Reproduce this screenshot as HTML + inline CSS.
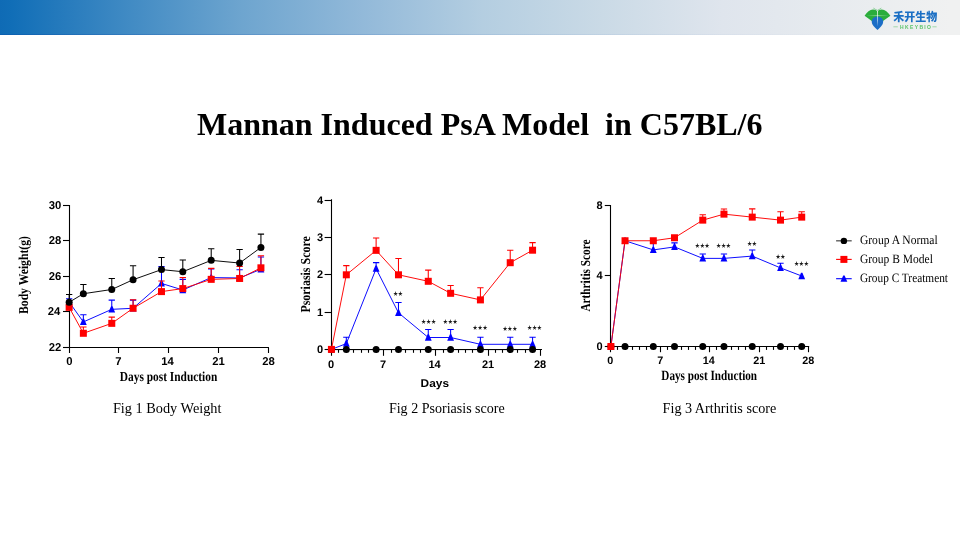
<!DOCTYPE html>
<html><head><meta charset="utf-8"><title>Mannan Induced PsA Model in C57BL/6</title>
<style>
html,body{margin:0;padding:0;background:#fff;}
body{width:960px;height:540px;overflow:hidden;position:relative;}
.hdr{position:absolute;left:0;top:0;width:960px;height:35px;
background:linear-gradient(90deg,#0f6bb5 0px,#116eb7 12px,#3e89c3 122px,#6ea5cf 242px,#92b9d9 362px,#b4cee1 482px,#cadae6 602px,#dfe5ed 722px,#e7ebef 832px,#f0f1f1 950px,#f0f1f1 960px);}
.hdr:after{content:"";position:absolute;left:0;width:960px;bottom:0;height:1px;background:linear-gradient(90deg,rgba(0,60,160,0.25),rgba(0,60,160,0.08) 50%,rgba(0,60,160,0) 90%);}
svg{position:absolute;left:0;top:0;}
</style></head><body>
<div class="hdr"></div>
<svg width="960" height="540" viewBox="0 0 960 540">
<defs>
  <linearGradient id="vl" x1="0" y1="0" x2="0" y2="1"><stop offset="0" stop-color="#ffffff" stop-opacity="0.95"/><stop offset="0.6" stop-color="#ffffff" stop-opacity="0.7"/><stop offset="1" stop-color="#ffffff" stop-opacity="0"/></linearGradient>
  <linearGradient id="hl" x1="0" y1="0" x2="1" y2="0"><stop offset="0" stop-color="#ffffff" stop-opacity="0"/><stop offset="0.5" stop-color="#ffffff" stop-opacity="0.6"/><stop offset="1" stop-color="#ffffff" stop-opacity="0"/></linearGradient>
</defs>
<g>
  <path d="M864.6 15.7 C867 12 869.8 9.6 873 9.5 C875 9.5 876.5 10.3 877.4 11.4 C878.3 10.3 879.8 9.5 881.8 9.5 C885 9.6 887.8 12 890.4 15.7 L883 21 L877.4 22 L871.8 21 Z" fill="#2aad3b"/>
  <path d="M877.4 16.4 C880.9 16.4 883.2 18.8 883.2 21.7 C883.2 24.6 880.3 27.3 877.5 29.9 C874.6 27.3 871.7 24.6 871.7 21.7 C871.7 18.8 874 16.4 877.4 16.4Z" fill="#1c6ec6"/>
  <rect x="866" y="15.35" width="23" height="0.7" fill="url(#hl)"/>
  <rect x="877.05" y="11" width="0.8" height="15.5" fill="url(#vl)"/>
  <path d="M873.4 8.1 Q875.6 9.6 877.4 10.4 Q879.2 9.6 881.3 8.1" stroke="#4cbb5c" stroke-width="0.6" fill="none"/>
</g>
<text x="893.2" y="20.6" font-family="'Liberation Sans','Noto Sans CJK SC',sans-serif" font-weight="900" font-size="11.2" fill="#1b6fc4" textLength="44" lengthAdjust="spacingAndGlyphs">禾开生物</text>
<path d="M893.4 26.8H897.8M932.4 26.8H936.6" stroke="#9ad6a2" stroke-width="0.9"/>
<text x="900" y="29" font-family="'Liberation Sans',sans-serif" font-weight="bold" font-size="5" fill="#5cc46a" textLength="31" lengthAdjust="spacing">HKEYBIO</text>

<path d="M69.5 205V347.5M268.9 347.5H69.5" stroke="#000" stroke-width="1.1" fill="none"/>
<path d="M63 347.5H69.5" stroke="#000" stroke-width="1.1"/>
<path d="M63 311.5H69.5" stroke="#000" stroke-width="1.1"/>
<path d="M63 276.5H69.5" stroke="#000" stroke-width="1.1"/>
<path d="M63 240.5H69.5" stroke="#000" stroke-width="1.1"/>
<path d="M63 205.5H69.5" stroke="#000" stroke-width="1.1"/>
<path d="M69.5 347.5V353" stroke="#000" stroke-width="1.1"/>
<path d="M118.5 347.5V353" stroke="#000" stroke-width="1.1"/>
<path d="M168.5 347.5V353" stroke="#000" stroke-width="1.1"/>
<path d="M218.5 347.5V353" stroke="#000" stroke-width="1.1"/>
<path d="M268.5 347.5V353" stroke="#000" stroke-width="1.1"/>
<polyline points="69.15,302.06 83.36,321.93 111.77,309.34 133.08,308.27 161.49,283.44 182.8,290 211.21,277.58 239.62,277.94 260.93,269.24" fill="none" stroke="#0000ff" stroke-width="0.95" stroke-linejoin="round"/>
<path d="M69.15 302.06V298.69M66 298.69H72.3" stroke="#0000ff" stroke-width="1.05" fill="none"/>
<path d="M83.36 321.93V314.84M80.21 314.84H86.51" stroke="#0000ff" stroke-width="1.05" fill="none"/>
<path d="M111.77 309.34V300.11M108.62 300.11H114.92" stroke="#0000ff" stroke-width="1.05" fill="none"/>
<path d="M133.08 308.27V300.11M129.93 300.11H136.23" stroke="#0000ff" stroke-width="1.05" fill="none"/>
<path d="M161.49 283.44V266.58M158.34 266.58H164.64" stroke="#0000ff" stroke-width="1.05" fill="none"/>
<path d="M182.8 290V279.36M179.65 279.36H185.95" stroke="#0000ff" stroke-width="1.05" fill="none"/>
<path d="M211.21 277.58V269.07M208.06 269.07H214.36" stroke="#0000ff" stroke-width="1.05" fill="none"/>
<path d="M239.62 277.94V269.78M236.47 269.78H242.77" stroke="#0000ff" stroke-width="1.05" fill="none"/>
<path d="M260.93 269.24V257M257.78 257H264.08" stroke="#0000ff" stroke-width="1.05" fill="none"/>
<path d="M68.45 298.91H69.85L72.55 305.21H65.75Z" fill="#0000ff"/>
<path d="M82.66 318.78H84.06L86.76 325.08H79.96Z" fill="#0000ff"/>
<path d="M111.07 306.19H112.47L115.17 312.49H108.37Z" fill="#0000ff"/>
<path d="M132.38 305.12H133.78L136.48 311.42H129.68Z" fill="#0000ff"/>
<path d="M160.79 280.29H162.19L164.89 286.59H158.09Z" fill="#0000ff"/>
<path d="M182.1 286.85H183.5L186.2 293.15H179.4Z" fill="#0000ff"/>
<path d="M210.51 274.43H211.91L214.61 280.73H207.81Z" fill="#0000ff"/>
<path d="M238.92 274.79H240.32L243.02 281.09H236.22Z" fill="#0000ff"/>
<path d="M260.23 266.09H261.63L264.33 272.39H257.53Z" fill="#0000ff"/>
<polyline points="69.15,307.38 83.36,333.29 111.77,323.35 133.08,308.27 161.49,291.6 182.8,288.58 211.21,279.36 239.62,278.47 260.93,267.82" fill="none" stroke="#ff0000" stroke-width="0.95" stroke-linejoin="round"/>
<path d="M83.36 333.29V327.08M80.21 327.08H86.51" stroke="#ff0000" stroke-width="1.05" fill="none"/>
<path d="M111.77 323.35V317.14M108.62 317.14H114.92" stroke="#ff0000" stroke-width="1.05" fill="none"/>
<path d="M133.08 308.27V299.76M129.93 299.76H136.23" stroke="#ff0000" stroke-width="1.05" fill="none"/>
<path d="M161.49 291.6V280.95M158.34 280.95H164.64" stroke="#ff0000" stroke-width="1.05" fill="none"/>
<path d="M182.8 288.58V277.58M179.65 277.58H185.95" stroke="#ff0000" stroke-width="1.05" fill="none"/>
<path d="M211.21 279.36V268.36M208.06 268.36H214.36" stroke="#ff0000" stroke-width="1.05" fill="none"/>
<path d="M239.62 278.47V266.58M236.47 266.58H242.77" stroke="#ff0000" stroke-width="1.05" fill="none"/>
<path d="M260.93 267.82V255.76M257.78 255.76H264.08" stroke="#ff0000" stroke-width="1.05" fill="none"/>
<rect x="65.65" y="303.88" width="7" height="7" fill="#ff0000"/>
<rect x="79.86" y="329.79" width="7" height="7" fill="#ff0000"/>
<rect x="108.27" y="319.85" width="7" height="7" fill="#ff0000"/>
<rect x="129.58" y="304.77" width="7" height="7" fill="#ff0000"/>
<rect x="157.99" y="288.1" width="7" height="7" fill="#ff0000"/>
<rect x="179.3" y="285.08" width="7" height="7" fill="#ff0000"/>
<rect x="207.71" y="275.86" width="7" height="7" fill="#ff0000"/>
<rect x="236.12" y="274.97" width="7" height="7" fill="#ff0000"/>
<rect x="257.43" y="264.32" width="7" height="7" fill="#ff0000"/>
<polyline points="69.15,302.24 83.36,293.73 111.77,289.47 133.08,279.71 161.49,269.6 182.8,271.73 211.21,260.37 239.62,263.04 260.93,247.42" fill="none" stroke="#000000" stroke-width="0.95" stroke-linejoin="round"/>
<path d="M69.15 302.24V294.43M66 294.43H72.3" stroke="#000000" stroke-width="1.05" fill="none"/>
<path d="M83.36 293.73V284.5M80.21 284.5H86.51" stroke="#000000" stroke-width="1.05" fill="none"/>
<path d="M111.77 289.47V278.47M108.62 278.47H114.92" stroke="#000000" stroke-width="1.05" fill="none"/>
<path d="M133.08 279.71V265.7M129.93 265.7H136.23" stroke="#000000" stroke-width="1.05" fill="none"/>
<path d="M161.49 269.6V257.54M158.34 257.54H164.64" stroke="#000000" stroke-width="1.05" fill="none"/>
<path d="M182.8 271.73V260.02M179.65 260.02H185.95" stroke="#000000" stroke-width="1.05" fill="none"/>
<path d="M211.21 260.37V248.67M208.06 248.67H214.36" stroke="#000000" stroke-width="1.05" fill="none"/>
<path d="M239.62 263.04V249.55M236.47 249.55H242.77" stroke="#000000" stroke-width="1.05" fill="none"/>
<path d="M260.93 247.42V234.12M257.78 234.12H264.08" stroke="#000000" stroke-width="1.05" fill="none"/>
<circle cx="69.15" cy="302.24" r="3.5" fill="#000000"/>
<circle cx="83.36" cy="293.73" r="3.5" fill="#000000"/>
<circle cx="111.77" cy="289.47" r="3.5" fill="#000000"/>
<circle cx="133.08" cy="279.71" r="3.5" fill="#000000"/>
<circle cx="161.49" cy="269.6" r="3.5" fill="#000000"/>
<circle cx="182.8" cy="271.73" r="3.5" fill="#000000"/>
<circle cx="211.21" cy="260.37" r="3.5" fill="#000000"/>
<circle cx="239.62" cy="263.04" r="3.5" fill="#000000"/>
<circle cx="260.93" cy="247.42" r="3.5" fill="#000000"/>
<path d="M331.5 199.2V349.5M542 349.5H331.5" stroke="#000" stroke-width="1.1" fill="none"/>
<path d="M324.6 349.5H331.5" stroke="#000" stroke-width="1.1"/>
<path d="M324.6 312.5H331.5" stroke="#000" stroke-width="1.1"/>
<path d="M324.6 274.5H331.5" stroke="#000" stroke-width="1.1"/>
<path d="M324.6 237.5H331.5" stroke="#000" stroke-width="1.1"/>
<path d="M324.6 200.5H331.5" stroke="#000" stroke-width="1.1"/>
<path d="M331.5 349.5V355.8" stroke="#000" stroke-width="1.1"/>
<path d="M338.5 349.5V352.8" stroke="#000" stroke-width="1.1"/>
<path d="M346.5 349.5V352.8" stroke="#000" stroke-width="1.1"/>
<path d="M353.5 349.5V352.8" stroke="#000" stroke-width="1.1"/>
<path d="M361.5 349.5V352.8" stroke="#000" stroke-width="1.1"/>
<path d="M368.5 349.5V352.8" stroke="#000" stroke-width="1.1"/>
<path d="M376.5 349.5V352.8" stroke="#000" stroke-width="1.1"/>
<path d="M383.5 349.5V355.8" stroke="#000" stroke-width="1.1"/>
<path d="M391.5 349.5V352.8" stroke="#000" stroke-width="1.1"/>
<path d="M398.5 349.5V352.8" stroke="#000" stroke-width="1.1"/>
<path d="M405.5 349.5V352.8" stroke="#000" stroke-width="1.1"/>
<path d="M413.5 349.5V352.8" stroke="#000" stroke-width="1.1"/>
<path d="M420.5 349.5V352.8" stroke="#000" stroke-width="1.1"/>
<path d="M428.5 349.5V352.8" stroke="#000" stroke-width="1.1"/>
<path d="M435.5 349.5V355.8" stroke="#000" stroke-width="1.1"/>
<path d="M443.5 349.5V352.8" stroke="#000" stroke-width="1.1"/>
<path d="M450.5 349.5V352.8" stroke="#000" stroke-width="1.1"/>
<path d="M458.5 349.5V352.8" stroke="#000" stroke-width="1.1"/>
<path d="M465.5 349.5V352.8" stroke="#000" stroke-width="1.1"/>
<path d="M472.5 349.5V352.8" stroke="#000" stroke-width="1.1"/>
<path d="M480.5 349.5V352.8" stroke="#000" stroke-width="1.1"/>
<path d="M488.5 349.5V355.8" stroke="#000" stroke-width="1.1"/>
<path d="M495.5 349.5V352.8" stroke="#000" stroke-width="1.1"/>
<path d="M502.5 349.5V352.8" stroke="#000" stroke-width="1.1"/>
<path d="M510.5 349.5V352.8" stroke="#000" stroke-width="1.1"/>
<path d="M517.5 349.5V352.8" stroke="#000" stroke-width="1.1"/>
<path d="M525.5 349.5V352.8" stroke="#000" stroke-width="1.1"/>
<path d="M532.5 349.5V352.8" stroke="#000" stroke-width="1.1"/>
<path d="M540.5 349.5V355.8" stroke="#000" stroke-width="1.1"/>
<polyline points="331.42,349.4 346.32,343.6 376.12,268.65 398.47,312.8 428.27,337.5 450.62,337.5 480.42,344.3 510.22,344.3 532.57,344.3" fill="none" stroke="#0000ff" stroke-width="0.95" stroke-linejoin="round"/>
<path d="M346.32 343.6V337.3M343.17 337.3H349.47" stroke="#0000ff" stroke-width="1.05" fill="none"/>
<path d="M376.12 268.65V262.6M372.97 262.6H379.27" stroke="#0000ff" stroke-width="1.05" fill="none"/>
<path d="M398.47 312.8V302.5M395.32 302.5H401.62" stroke="#0000ff" stroke-width="1.05" fill="none"/>
<path d="M428.27 337.5V329.4M425.12 329.4H431.42" stroke="#0000ff" stroke-width="1.05" fill="none"/>
<path d="M450.62 337.5V329.4M447.47 329.4H453.77" stroke="#0000ff" stroke-width="1.05" fill="none"/>
<path d="M480.42 344.3V337.3M477.27 337.3H483.57" stroke="#0000ff" stroke-width="1.05" fill="none"/>
<path d="M510.22 344.3V337.3M507.07 337.3H513.37" stroke="#0000ff" stroke-width="1.05" fill="none"/>
<path d="M532.57 344.3V337.3M529.42 337.3H535.72" stroke="#0000ff" stroke-width="1.05" fill="none"/>
<path d="M330.72 346.25H332.12L334.82 352.55H328.02Z" fill="#0000ff"/>
<path d="M345.62 340.45H347.02L349.72 346.75H342.92Z" fill="#0000ff"/>
<path d="M375.42 265.5H376.82L379.52 271.8H372.72Z" fill="#0000ff"/>
<path d="M397.77 309.65H399.17L401.87 315.95H395.07Z" fill="#0000ff"/>
<path d="M427.57 334.35H428.97L431.67 340.65H424.87Z" fill="#0000ff"/>
<path d="M449.92 334.35H451.32L454.02 340.65H447.22Z" fill="#0000ff"/>
<path d="M479.72 341.15H481.12L483.82 347.45H477.02Z" fill="#0000ff"/>
<path d="M509.52 341.15H510.92L513.62 347.45H506.82Z" fill="#0000ff"/>
<path d="M531.87 341.15H533.27L535.97 347.45H529.17Z" fill="#0000ff"/>
<polyline points="331.42,349.6 346.32,349.6 376.12,349.6 398.47,349.6 428.27,349.6 450.62,349.6 480.42,349.6 510.22,349.6 532.57,349.6" fill="none" stroke="#000000" stroke-width="0.95" stroke-linejoin="round"/>
<circle cx="331.42" cy="349.6" r="3.5" fill="#000000"/>
<circle cx="346.32" cy="349.6" r="3.5" fill="#000000"/>
<circle cx="376.12" cy="349.6" r="3.5" fill="#000000"/>
<circle cx="398.47" cy="349.6" r="3.5" fill="#000000"/>
<circle cx="428.27" cy="349.6" r="3.5" fill="#000000"/>
<circle cx="450.62" cy="349.6" r="3.5" fill="#000000"/>
<circle cx="480.42" cy="349.6" r="3.5" fill="#000000"/>
<circle cx="510.22" cy="349.6" r="3.5" fill="#000000"/>
<circle cx="532.57" cy="349.6" r="3.5" fill="#000000"/>
<polyline points="331.42,349.4 346.32,274.8 376.12,250.35 398.47,274.8 428.27,281.3 450.62,293.3 480.42,299.9 510.22,262.7 532.57,250.2" fill="none" stroke="#ff0000" stroke-width="0.95" stroke-linejoin="round"/>
<path d="M346.32 274.8V265.6M343.17 265.6H349.47" stroke="#ff0000" stroke-width="1.05" fill="none"/>
<path d="M376.12 250.35V238M372.97 238H379.27" stroke="#ff0000" stroke-width="1.05" fill="none"/>
<path d="M398.47 274.8V258.5M395.32 258.5H401.62" stroke="#ff0000" stroke-width="1.05" fill="none"/>
<path d="M428.27 281.3V270.1M425.12 270.1H431.42" stroke="#ff0000" stroke-width="1.05" fill="none"/>
<path d="M450.62 293.3V285.5M447.47 285.5H453.77" stroke="#ff0000" stroke-width="1.05" fill="none"/>
<path d="M480.42 299.9V287.7M477.27 287.7H483.57" stroke="#ff0000" stroke-width="1.05" fill="none"/>
<path d="M510.22 262.7V250.2M507.07 250.2H513.37" stroke="#ff0000" stroke-width="1.05" fill="none"/>
<path d="M532.57 250.2V242.6M529.42 242.6H535.72" stroke="#ff0000" stroke-width="1.05" fill="none"/>
<rect x="327.92" y="345.9" width="7" height="7" fill="#ff0000"/>
<rect x="342.82" y="271.3" width="7" height="7" fill="#ff0000"/>
<rect x="372.62" y="246.85" width="7" height="7" fill="#ff0000"/>
<rect x="394.97" y="271.3" width="7" height="7" fill="#ff0000"/>
<rect x="424.77" y="277.8" width="7" height="7" fill="#ff0000"/>
<rect x="447.12" y="289.8" width="7" height="7" fill="#ff0000"/>
<rect x="476.92" y="296.4" width="7" height="7" fill="#ff0000"/>
<rect x="506.72" y="259.2" width="7" height="7" fill="#ff0000"/>
<rect x="529.07" y="246.7" width="7" height="7" fill="#ff0000"/>
<path d="M610.5 205V346.5M809.2 346.5H610.5" stroke="#000" stroke-width="1.1" fill="none"/>
<path d="M604.8 346.5H610.5" stroke="#000" stroke-width="1.1"/>
<path d="M604.8 275.5H610.5" stroke="#000" stroke-width="1.1"/>
<path d="M604.8 205.5H610.5" stroke="#000" stroke-width="1.1"/>
<path d="M610.5 346.5V352.2" stroke="#000" stroke-width="1.1"/>
<path d="M617.5 346.5V349.9" stroke="#000" stroke-width="1.1"/>
<path d="M625.5 346.5V349.9" stroke="#000" stroke-width="1.1"/>
<path d="M632.5 346.5V349.9" stroke="#000" stroke-width="1.1"/>
<path d="M639.5 346.5V349.9" stroke="#000" stroke-width="1.1"/>
<path d="M646.5 346.5V349.9" stroke="#000" stroke-width="1.1"/>
<path d="M653.5 346.5V349.9" stroke="#000" stroke-width="1.1"/>
<path d="M660.5 346.5V352.2" stroke="#000" stroke-width="1.1"/>
<path d="M667.5 346.5V349.9" stroke="#000" stroke-width="1.1"/>
<path d="M674.5 346.5V349.9" stroke="#000" stroke-width="1.1"/>
<path d="M681.5 346.5V349.9" stroke="#000" stroke-width="1.1"/>
<path d="M688.5 346.5V349.9" stroke="#000" stroke-width="1.1"/>
<path d="M695.5 346.5V349.9" stroke="#000" stroke-width="1.1"/>
<path d="M702.5 346.5V349.9" stroke="#000" stroke-width="1.1"/>
<path d="M709.5 346.5V352.2" stroke="#000" stroke-width="1.1"/>
<path d="M716.5 346.5V349.9" stroke="#000" stroke-width="1.1"/>
<path d="M723.5 346.5V349.9" stroke="#000" stroke-width="1.1"/>
<path d="M731.5 346.5V349.9" stroke="#000" stroke-width="1.1"/>
<path d="M738.5 346.5V349.9" stroke="#000" stroke-width="1.1"/>
<path d="M745.5 346.5V349.9" stroke="#000" stroke-width="1.1"/>
<path d="M752.5 346.5V349.9" stroke="#000" stroke-width="1.1"/>
<path d="M759.5 346.5V352.2" stroke="#000" stroke-width="1.1"/>
<path d="M766.5 346.5V349.9" stroke="#000" stroke-width="1.1"/>
<path d="M773.5 346.5V349.9" stroke="#000" stroke-width="1.1"/>
<path d="M780.5 346.5V349.9" stroke="#000" stroke-width="1.1"/>
<path d="M787.5 346.5V349.9" stroke="#000" stroke-width="1.1"/>
<path d="M794.5 346.5V349.9" stroke="#000" stroke-width="1.1"/>
<path d="M801.5 346.5V349.9" stroke="#000" stroke-width="1.1"/>
<path d="M808.5 346.5V352.2" stroke="#000" stroke-width="1.1"/>
<polyline points="610.9,346.5 625.03,240.75 653.3,249.91 674.5,246.92 702.77,258.38 723.97,258.38 752.24,256.08 780.51,267.89 801.71,276" fill="none" stroke="#0000ff" stroke-width="0.95" stroke-linejoin="round"/>
<path d="M653.3 249.91V240.75M650.15 240.75H656.45" stroke="#0000ff" stroke-width="1.05" fill="none"/>
<path d="M674.5 246.92V242.87M671.35 242.87H677.65" stroke="#0000ff" stroke-width="1.05" fill="none"/>
<path d="M702.77 258.38V253.97M699.62 253.97H705.92" stroke="#0000ff" stroke-width="1.05" fill="none"/>
<path d="M723.97 258.38V253.97M720.82 253.97H727.12" stroke="#0000ff" stroke-width="1.05" fill="none"/>
<path d="M752.24 256.08V250.09M749.09 250.09H755.39" stroke="#0000ff" stroke-width="1.05" fill="none"/>
<path d="M780.51 267.89V263.31M777.36 263.31H783.66" stroke="#0000ff" stroke-width="1.05" fill="none"/>
<path d="M610.2 343.35H611.6L614.3 349.65H607.5Z" fill="#0000ff"/>
<path d="M624.33 237.6H625.73L628.43 243.9H621.63Z" fill="#0000ff"/>
<path d="M652.6 246.76H654L656.7 253.06H649.9Z" fill="#0000ff"/>
<path d="M673.8 243.77H675.2L677.9 250.07H671.1Z" fill="#0000ff"/>
<path d="M702.07 255.22H703.47L706.17 261.52H699.37Z" fill="#0000ff"/>
<path d="M723.27 255.22H724.67L727.37 261.52H720.57Z" fill="#0000ff"/>
<path d="M751.54 252.93H752.94L755.64 259.23H748.84Z" fill="#0000ff"/>
<path d="M779.81 264.74H781.21L783.91 271.04H777.11Z" fill="#0000ff"/>
<path d="M801.01 272.85H802.41L805.11 279.15H798.31Z" fill="#0000ff"/>
<polyline points="610.9,346.5 625.03,346.5 653.3,346.5 674.5,346.5 702.77,346.5 723.97,346.5 752.24,346.5 780.51,346.5 801.71,346.5" fill="none" stroke="#000000" stroke-width="0.95" stroke-linejoin="round"/>
<circle cx="610.9" cy="346.5" r="3.5" fill="#000000"/>
<circle cx="625.03" cy="346.5" r="3.5" fill="#000000"/>
<circle cx="653.3" cy="346.5" r="3.5" fill="#000000"/>
<circle cx="674.5" cy="346.5" r="3.5" fill="#000000"/>
<circle cx="702.77" cy="346.5" r="3.5" fill="#000000"/>
<circle cx="723.97" cy="346.5" r="3.5" fill="#000000"/>
<circle cx="752.24" cy="346.5" r="3.5" fill="#000000"/>
<circle cx="780.51" cy="346.5" r="3.5" fill="#000000"/>
<circle cx="801.71" cy="346.5" r="3.5" fill="#000000"/>
<polyline points="610.9,346.5 625.03,240.75 653.3,240.75 674.5,237.75 702.77,220.13 723.97,214.14 752.24,217.13 780.51,220.13 801.71,217.13" fill="none" stroke="#ff0000" stroke-width="0.95" stroke-linejoin="round"/>
<path d="M702.77 220.13V214.66M699.62 214.66H705.92" stroke="#ff0000" stroke-width="1.05" fill="none"/>
<path d="M723.97 214.14V209.03M720.82 209.03H727.12" stroke="#ff0000" stroke-width="1.05" fill="none"/>
<path d="M752.24 217.13V208.85M749.09 208.85H755.39" stroke="#ff0000" stroke-width="1.05" fill="none"/>
<path d="M780.51 220.13V211.84M777.36 211.84H783.66" stroke="#ff0000" stroke-width="1.05" fill="none"/>
<path d="M801.71 217.13V211.84M798.56 211.84H804.86" stroke="#ff0000" stroke-width="1.05" fill="none"/>
<rect x="607.4" y="343" width="7" height="7" fill="#ff0000"/>
<rect x="621.53" y="237.25" width="7" height="7" fill="#ff0000"/>
<rect x="649.8" y="237.25" width="7" height="7" fill="#ff0000"/>
<rect x="671" y="234.25" width="7" height="7" fill="#ff0000"/>
<rect x="699.27" y="216.63" width="7" height="7" fill="#ff0000"/>
<rect x="720.47" y="210.64" width="7" height="7" fill="#ff0000"/>
<rect x="748.74" y="213.63" width="7" height="7" fill="#ff0000"/>
<rect x="777.01" y="216.63" width="7" height="7" fill="#ff0000"/>
<rect x="798.21" y="213.63" width="7" height="7" fill="#ff0000"/>
<path d="M836.1 240.8H851.7" stroke="#5a5a5a" stroke-width="1.35"/>
<circle cx="843.9" cy="240.9" r="3.2" fill="#000000"/>
<path d="M836.1 259.4H851.7" stroke="#ff0000" stroke-width="1.1"/>
<rect x="840.4" y="255.9" width="7" height="7" fill="#ff0000"/>
<path d="M836.1 278.7H851.7" stroke="#0000ff" stroke-width="1.1"/>
<path d="M843.2 275.55H844.6L847.3 281.85H840.5Z" fill="#0000ff"/>
<text transform="translate(48.80,350.80) scale(1.0000,1)" font-family="'Liberation Sans', Arial, sans-serif" font-weight="bold" font-size="11.3" fill="#000" text-rendering="geometricPrecision">22</text>
<text transform="translate(47.80,314.80) scale(1.0000,1)" font-family="'Liberation Sans', Arial, sans-serif" font-weight="bold" font-size="11.3" fill="#000" text-rendering="geometricPrecision">24</text>
<text transform="translate(48.80,279.80) scale(1.0000,1)" font-family="'Liberation Sans', Arial, sans-serif" font-weight="bold" font-size="11.3" fill="#000" text-rendering="geometricPrecision">26</text>
<text transform="translate(48.80,243.80) scale(1.0000,1)" font-family="'Liberation Sans', Arial, sans-serif" font-weight="bold" font-size="11.3" fill="#000" text-rendering="geometricPrecision">28</text>
<text transform="translate(48.80,208.80) scale(1.0000,1)" font-family="'Liberation Sans', Arial, sans-serif" font-weight="bold" font-size="11.3" fill="#000" text-rendering="geometricPrecision">30</text>
<text transform="translate(66.30,364.80) scale(1.0000,1)" font-family="'Liberation Sans', Arial, sans-serif" font-weight="bold" font-size="11.3" fill="#000" text-rendering="geometricPrecision">0</text>
<text transform="translate(115.30,364.80) scale(1.0000,1)" font-family="'Liberation Sans', Arial, sans-serif" font-weight="bold" font-size="11.3" fill="#000" text-rendering="geometricPrecision">7</text>
<text transform="translate(161.30,364.80) scale(1.0000,1)" font-family="'Liberation Sans', Arial, sans-serif" font-weight="bold" font-size="11.3" fill="#000" text-rendering="geometricPrecision">14</text>
<text transform="translate(212.30,364.80) scale(1.0000,1)" font-family="'Liberation Sans', Arial, sans-serif" font-weight="bold" font-size="11.3" fill="#000" text-rendering="geometricPrecision">21</text>
<text transform="translate(262.30,364.80) scale(1.0000,1)" font-family="'Liberation Sans', Arial, sans-serif" font-weight="bold" font-size="11.3" fill="#000" text-rendering="geometricPrecision">28</text>
<text transform="translate(119.75,381.20) scale(0.8329,1)" font-family="'Liberation Serif', 'Times New Roman', serif" font-weight="bold" font-size="13.7" fill="#000" text-rendering="geometricPrecision">Days post Induction</text>
<text transform="translate(28.10,314.00) rotate(-90) scale(0.8589,1)" font-family="'Liberation Serif', 'Times New Roman', serif" font-weight="bold" font-size="13.6" fill="#000" text-rendering="geometricPrecision">Body Weight(g)</text>
<text transform="translate(316.90,353.20) scale(1.0000,1)" font-family="'Liberation Sans', Arial, sans-serif" font-weight="bold" font-size="11.0" fill="#000" text-rendering="geometricPrecision">0</text>
<text transform="translate(316.90,316.20) scale(1.0000,1)" font-family="'Liberation Sans', Arial, sans-serif" font-weight="bold" font-size="11.0" fill="#000" text-rendering="geometricPrecision">1</text>
<text transform="translate(316.90,278.20) scale(1.0000,1)" font-family="'Liberation Sans', Arial, sans-serif" font-weight="bold" font-size="11.0" fill="#000" text-rendering="geometricPrecision">2</text>
<text transform="translate(316.90,241.20) scale(1.0000,1)" font-family="'Liberation Sans', Arial, sans-serif" font-weight="bold" font-size="11.0" fill="#000" text-rendering="geometricPrecision">3</text>
<text transform="translate(316.90,204.20) scale(1.0000,1)" font-family="'Liberation Sans', Arial, sans-serif" font-weight="bold" font-size="11.0" fill="#000" text-rendering="geometricPrecision">4</text>
<text transform="translate(327.90,367.70) scale(1.0000,1)" font-family="'Liberation Sans', Arial, sans-serif" font-weight="bold" font-size="11.0" fill="#000" text-rendering="geometricPrecision">0</text>
<text transform="translate(379.90,367.70) scale(1.0000,1)" font-family="'Liberation Sans', Arial, sans-serif" font-weight="bold" font-size="11.0" fill="#000" text-rendering="geometricPrecision">7</text>
<text transform="translate(428.40,367.70) scale(1.0000,1)" font-family="'Liberation Sans', Arial, sans-serif" font-weight="bold" font-size="11.0" fill="#000" text-rendering="geometricPrecision">14</text>
<text transform="translate(481.90,367.70) scale(1.0000,1)" font-family="'Liberation Sans', Arial, sans-serif" font-weight="bold" font-size="11.0" fill="#000" text-rendering="geometricPrecision">21</text>
<text transform="translate(533.90,367.70) scale(1.0000,1)" font-family="'Liberation Sans', Arial, sans-serif" font-weight="bold" font-size="11.0" fill="#000" text-rendering="geometricPrecision">28</text>
<text transform="translate(420.60,386.50) scale(1.0611,1)" font-family="'Liberation Sans', Arial, sans-serif" font-weight="bold" font-size="11.2" fill="#000" text-rendering="geometricPrecision">Days</text>
<text transform="translate(309.80,312.60) rotate(-90) scale(0.8725,1)" font-family="'Liberation Serif', 'Times New Roman', serif" font-weight="bold" font-size="13.7" fill="#000" text-rendering="geometricPrecision">Psoriasis Score</text>
<text transform="translate(596.60,350.10) scale(1.0000,1)" font-family="'Liberation Sans', Arial, sans-serif" font-weight="bold" font-size="11.0" fill="#000" text-rendering="geometricPrecision">0</text>
<text transform="translate(596.60,279.10) scale(1.0000,1)" font-family="'Liberation Sans', Arial, sans-serif" font-weight="bold" font-size="11.0" fill="#000" text-rendering="geometricPrecision">4</text>
<text transform="translate(596.60,209.10) scale(1.0000,1)" font-family="'Liberation Sans', Arial, sans-serif" font-weight="bold" font-size="11.0" fill="#000" text-rendering="geometricPrecision">8</text>
<text transform="translate(607.30,363.60) scale(1.0000,1)" font-family="'Liberation Sans', Arial, sans-serif" font-weight="bold" font-size="10.8" fill="#000" text-rendering="geometricPrecision">0</text>
<text transform="translate(657.30,363.60) scale(1.0000,1)" font-family="'Liberation Sans', Arial, sans-serif" font-weight="bold" font-size="10.8" fill="#000" text-rendering="geometricPrecision">7</text>
<text transform="translate(702.80,363.60) scale(1.0000,1)" font-family="'Liberation Sans', Arial, sans-serif" font-weight="bold" font-size="10.8" fill="#000" text-rendering="geometricPrecision">14</text>
<text transform="translate(753.30,363.60) scale(1.0000,1)" font-family="'Liberation Sans', Arial, sans-serif" font-weight="bold" font-size="10.8" fill="#000" text-rendering="geometricPrecision">21</text>
<text transform="translate(802.30,363.60) scale(1.0000,1)" font-family="'Liberation Sans', Arial, sans-serif" font-weight="bold" font-size="10.8" fill="#000" text-rendering="geometricPrecision">28</text>
<text transform="translate(661.30,380.40) scale(0.7992,1)" font-family="'Liberation Serif', 'Times New Roman', serif" font-weight="bold" font-size="14.0" fill="#000" text-rendering="geometricPrecision">Days post Induction</text>
<text transform="translate(590.20,311.60) rotate(-90) scale(0.8231,1)" font-family="'Liberation Serif', 'Times New Roman', serif" font-weight="bold" font-size="13.7" fill="#000" text-rendering="geometricPrecision">Arthritis Score</text>
<text transform="translate(392.95,296.15) scale(0.8400,1)" font-family="'DejaVu Sans', sans-serif" font-weight="normal" font-size="6.9" fill="#1a1a1a" text-rendering="geometricPrecision" letter-spacing="-0.35">★★</text>
<text transform="translate(421.10,324.05) scale(0.8400,1)" font-family="'DejaVu Sans', sans-serif" font-weight="normal" font-size="6.9" fill="#1a1a1a" text-rendering="geometricPrecision" letter-spacing="-0.35">★★★</text>
<text transform="translate(442.75,324.00) scale(0.8400,1)" font-family="'DejaVu Sans', sans-serif" font-weight="normal" font-size="6.9" fill="#1a1a1a" text-rendering="geometricPrecision" letter-spacing="-0.35">★★★</text>
<text transform="translate(472.60,330.05) scale(0.8400,1)" font-family="'DejaVu Sans', sans-serif" font-weight="normal" font-size="6.9" fill="#1a1a1a" text-rendering="geometricPrecision" letter-spacing="-0.35">★★★</text>
<text transform="translate(502.40,330.85) scale(0.8400,1)" font-family="'DejaVu Sans', sans-serif" font-weight="normal" font-size="6.9" fill="#1a1a1a" text-rendering="geometricPrecision" letter-spacing="-0.35">★★★</text>
<text transform="translate(527.00,330.05) scale(0.8400,1)" font-family="'DejaVu Sans', sans-serif" font-weight="normal" font-size="6.9" fill="#1a1a1a" text-rendering="geometricPrecision" letter-spacing="-0.35">★★★</text>
<text transform="translate(694.80,247.60) scale(0.8400,1)" font-family="'DejaVu Sans', sans-serif" font-weight="normal" font-size="6.9" fill="#1a1a1a" text-rendering="geometricPrecision" letter-spacing="-0.35">★★★</text>
<text transform="translate(716.00,248.30) scale(0.8400,1)" font-family="'DejaVu Sans', sans-serif" font-weight="normal" font-size="6.9" fill="#1a1a1a" text-rendering="geometricPrecision" letter-spacing="-0.35">★★★</text>
<text transform="translate(746.90,246.20) scale(0.8400,1)" font-family="'DejaVu Sans', sans-serif" font-weight="normal" font-size="6.9" fill="#1a1a1a" text-rendering="geometricPrecision" letter-spacing="-0.35">★★</text>
<text transform="translate(775.40,259.10) scale(0.8400,1)" font-family="'DejaVu Sans', sans-serif" font-weight="normal" font-size="6.9" fill="#1a1a1a" text-rendering="geometricPrecision" letter-spacing="-0.35">★★</text>
<text transform="translate(793.90,265.60) scale(0.8400,1)" font-family="'DejaVu Sans', sans-serif" font-weight="normal" font-size="6.9" fill="#1a1a1a" text-rendering="geometricPrecision" letter-spacing="-0.35">★★★</text>
<text transform="translate(859.90,243.60) scale(0.9036,1)" font-family="'Liberation Serif', 'Times New Roman', serif" font-weight="normal" font-size="12.8" fill="#000" text-rendering="geometricPrecision">Group A Normal</text>
<text transform="translate(859.90,262.50) scale(0.9013,1)" font-family="'Liberation Serif', 'Times New Roman', serif" font-weight="normal" font-size="12.8" fill="#000" text-rendering="geometricPrecision">Group B Model</text>
<text transform="translate(859.90,281.70) scale(0.8849,1)" font-family="'Liberation Serif', 'Times New Roman', serif" font-weight="normal" font-size="12.8" fill="#000" text-rendering="geometricPrecision">Group C Treatment</text>
<text transform="translate(112.90,412.80) scale(1.0219,1)" font-family="'Liberation Serif', 'Times New Roman', serif" font-weight="normal" font-size="14" fill="#000">Fig 1 Body Weight</text>
<text transform="translate(388.90,412.80) scale(1.0035,1)" font-family="'Liberation Serif', 'Times New Roman', serif" font-weight="normal" font-size="14" fill="#000">Fig 2 Psoriasis score</text>
<text transform="translate(662.60,412.80) scale(1.0117,1)" font-family="'Liberation Serif', 'Times New Roman', serif" font-weight="normal" font-size="14" fill="#000">Fig 3 Arthritis score</text>
<text transform="translate(197.00,135.20) scale(1.0002,1)" font-family="'Liberation Serif', 'Times New Roman', serif" font-weight="bold" font-size="32" fill="#000">Mannan Induced PsA Model&#160; in C57BL/6</text>
</svg>
</body></html>
